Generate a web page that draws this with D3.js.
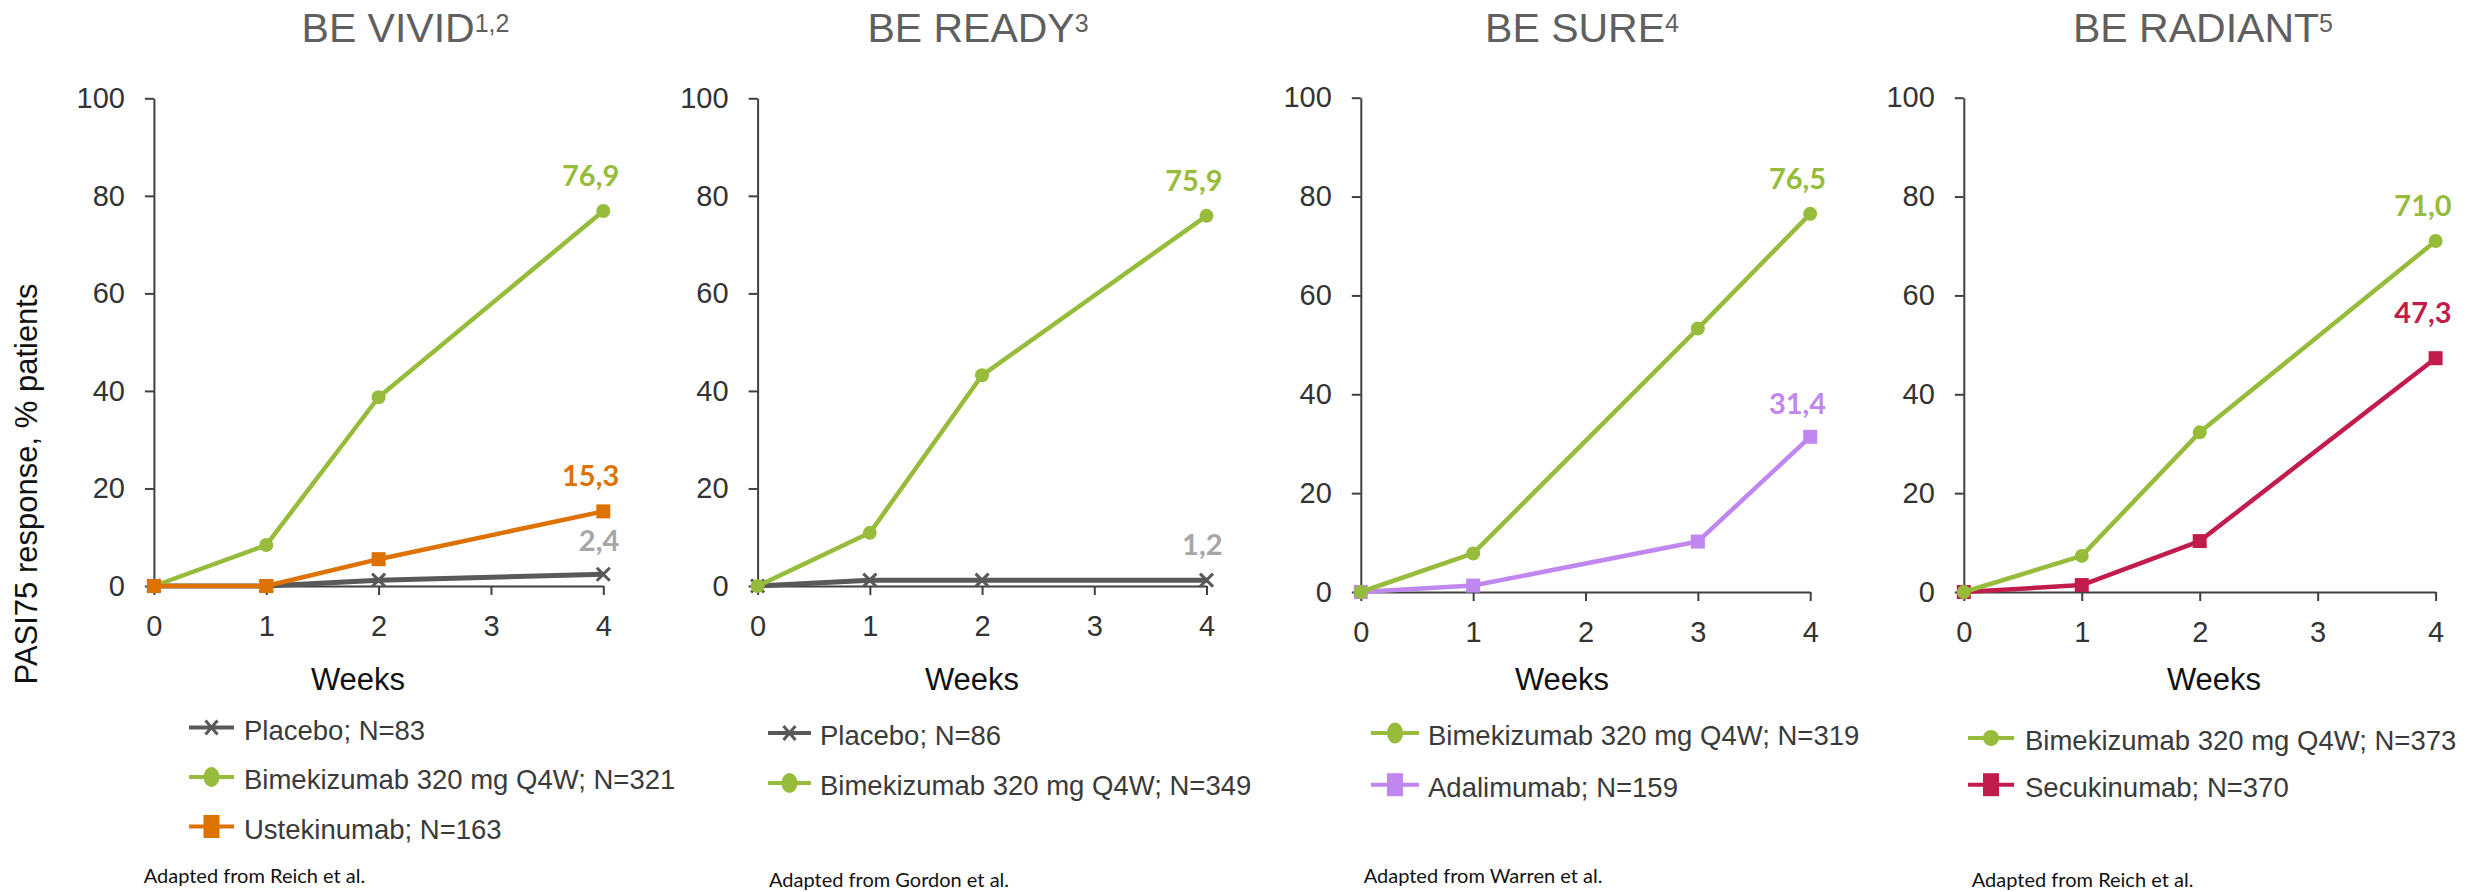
<!DOCTYPE html>
<html>
<head>
<meta charset="utf-8">
<script src="https://cdn.jsdelivr.net/npm/d3@7"></script>
<style>
  html, body { margin: 0; padding: 0; background: #ffffff; }
  svg { display: block; }
</style>
</head>
<body>
<svg id="chart" width="2486" height="892"></svg>
<script>
// ---- Axis ticks ----
const weekTicks = [0, 1, 2, 3, 4];
const responseTicks = [0, 20, 40, 60, 80, 100];

// ---- Study titles, reference marks and sources ----
const studyNames = ["BE VIVID", "BE READY", "BE SURE", "BE RADIANT"];
const studyRefs = ["1,2", "3", "4", "5"];
const studySources = [
  "Adapted from Reich et al.",
  "Adapted from Gordon et al.",
  "Adapted from Warren et al.",
  "Adapted from Reich et al."
];

// ---- BE VIVID: PASI75 response (%) by week ----
const vividWeeks = [0, 1, 2, 4];
const vividPlacebo = [0, 0, 1.2, 2.4];
const vividBimekizumab = [0, 8.4, 38.7, 76.9];
const vividUstekinumab = [0, 0, 5.5, 15.3];
const vividLegend = ["Placebo; N=83", "Bimekizumab 320 mg Q4W; N=321", "Ustekinumab; N=163"];

// ---- BE READY ----
const readyWeeks = [0, 1, 2, 4];
const readyPlacebo = [0, 1.2, 1.2, 1.2];
const readyBimekizumab = [0, 10.9, 43.2, 75.9];
const readyLegend = ["Placebo; N=86", "Bimekizumab 320 mg Q4W; N=349"];

// ---- BE SURE ----
const sureWeeks = [0, 1, 3, 4];
const sureBimekizumab = [0, 7.8, 53.3, 76.5];
const sureAdalimumab = [0, 1.3, 10.2, 31.4];
const sureLegend = ["Bimekizumab 320 mg Q4W; N=319", "Adalimumab; N=159"];

// ---- BE RADIANT ----
const radiantWeeks = [0, 1, 2, 4];
const radiantBimekizumab = [0, 7.3, 32.3, 71.0];
const radiantSecukinumab = [0, 1.4, 10.3, 47.3];
const radiantLegend = ["Bimekizumab 320 mg Q4W; N=373", "Secukinumab; N=370"];

const yAxisTitle = "PASI75 response, % patients";
const xAxisTitle = "Weeks";

// ---- Styling ----
const COL = {
  placebo: "#595959", placeboLabel: "#a6a6a6",
  bimek: "#97bc3b", ustek: "#de7200", adali: "#bf87ef", secuk: "#c21c4c",
  axis: "#404040", tick: "#333333", title: "#5f5f5f", legendText: "#3a3a3a"
};
const SANS = "'Liberation Sans', Arial, sans-serif";
const LABEL_FONT = "Lato, 'Open Sans', sans-serif";

// series: draw order listed first-to-last; legend gives row order
const panels = [
  {
    series: [
      { weeks: vividWeeks, values: vividPlacebo, mark: "x", color: COL.placebo, labelColor: COL.placeboLabel, legend: 0, labelDy: 23 },
      { weeks: vividWeeks, values: vividBimekizumab, mark: "circle", color: COL.bimek, labelColor: COL.bimek, legend: 1 },
      { weeks: vividWeeks, values: vividUstekinumab, mark: "square", color: COL.ustek, labelColor: COL.ustek, legend: 2 }
    ],
    legendText: vividLegend,
    layout: { x0: 153.9, x1: 603.3, yBase: 586, yTop: 98.3, titleX: 405.5, weeksX: 358,
              lg: { x1: 189, x2: 234, tx: 244, y: 739.5, gap: 49.5, ry: 10 }, foot: [143.7, 883] }
  },
  {
    series: [
      { weeks: readyWeeks, values: readyPlacebo, mark: "x", color: COL.placebo, labelColor: COL.placeboLabel, legend: 0 },
      { weeks: readyWeeks, values: readyBimekizumab, mark: "circle", color: COL.bimek, labelColor: COL.bimek, legend: 1 }
    ],
    legendText: readyLegend,
    layout: { x0: 757.6, x1: 1206.5, yBase: 586, yTop: 98.3, titleX: 978, weeksX: 972,
              lg: { x1: 768, x2: 811, tx: 820, y: 745, gap: 50, ry: 10 }, foot: [769, 887] }
  },
  {
    series: [
      { weeks: sureWeeks, values: sureAdalimumab, mark: "square", color: COL.adali, labelColor: COL.adali, legend: 1, labelDy: 23 },
      { weeks: sureWeeks, values: sureBimekizumab, mark: "circle", color: COL.bimek, labelColor: COL.bimek, legend: 0 }
    ],
    legendText: sureLegend,
    layout: { x0: 1360.8, x1: 1810.2, yBase: 592, yTop: 97.7, titleX: 1582, weeksX: 1562,
              lg: { x1: 1371, x2: 1419, tx: 1428, y: 745, gap: 51.7, ry: 10.5 }, foot: [1363.7, 883] }
  },
  {
    series: [
      { weeks: radiantWeeks, values: radiantSecukinumab, mark: "square", color: COL.secuk, labelColor: COL.secuk, legend: 1, labelDy: 35 },
      { weeks: radiantWeeks, values: radiantBimekizumab, mark: "circle", color: COL.bimek, labelColor: COL.bimek, legend: 0 }
    ],
    legendText: radiantLegend,
    layout: { x0: 1963.8, x1: 2435.6, yBase: 592, yTop: 97.7, titleX: 2203, weeksX: 2214,
              lg: { x1: 1968, x2: 2014, tx: 2025, y: 750, gap: 46.7, ry: 8 }, foot: [1971.8, 886.7] }
  }
];

const svg = d3.select("#chart");
const fmt = v => d3.format(".1f")(v).replace(".", ",");

// draws a marker of the given type into a selection positioned at its centre
function drawMarker(sel, mark, color, rx, ry) {
  if (mark === "circle") {
    sel.append("ellipse").attr("rx", rx).attr("ry", ry).attr("fill", color);
  } else if (mark === "square") {
    sel.append("rect").attr("x", -rx).attr("y", -ry).attr("width", 2 * rx).attr("height", 2 * ry).attr("fill", color);
  } else {
    sel.append("path").attr("d", `M${-rx},${-ry}L${rx},${ry}M${-rx},${ry}L${rx},${-ry}`)
      .attr("stroke", color).attr("stroke-width", 3).attr("fill", "none");
  }
}

// shared y-axis title
svg.append("text")
  .attr("transform", "translate(37,484) rotate(-90)")
  .attr("text-anchor", "middle")
  .attr("font-family", SANS).attr("font-size", 31).attr("fill", "#111")
  .text(yAxisTitle);

panels.forEach((p, i) => {
  const L = p.layout;
  const x = d3.scaleLinear().domain([0, 4]).range([L.x0, L.x1]);
  const y = d3.scaleLinear().domain([0, 100]).range([L.yBase, L.yTop]);
  const g = svg.append("g");

  // title with superscript reference
  const t = g.append("text")
    .attr("x", L.titleX).attr("y", 42.3)
    .attr("text-anchor", "middle")
    .attr("font-family", SANS).attr("font-size", 41).attr("fill", COL.title);
  t.append("tspan").text(studyNames[i]);
  t.append("tspan").attr("font-size", 25).attr("dy", -10.8).text(studyRefs[i]);

  // axes
  const yAxis = g.append("g").attr("transform", `translate(${L.x0},0)`)
    .call(d3.axisLeft(y).tickValues(responseTicks).tickFormat(d3.format("d"))
      .tickSize(9).tickSizeOuter(0).tickPadding(20));
  const xAxis = g.append("g").attr("transform", `translate(0,${L.yBase})`)
    .call(d3.axisBottom(x).tickValues(weekTicks).tickFormat(d3.format("d"))
      .tickSize(9).tickSizeOuter(0).tickPadding(20));
  [yAxis, xAxis].forEach(a => {
    a.select(".domain").attr("stroke", COL.axis).attr("stroke-width", 2);
    a.selectAll(".tick line").attr("stroke", COL.axis).attr("stroke-width", 2);
    a.selectAll(".tick text").attr("font-family", SANS).attr("fill", COL.tick).attr("font-size", 29);
  });

  g.append("text")
    .attr("x", L.weeksX).attr("y", 690)
    .attr("text-anchor", "middle")
    .attr("font-family", SANS).attr("font-size", 31).attr("fill", "#111")
    .text(xAxisTitle);

  // series lines, markers and end-value labels
  const line = d3.line().x(d => x(d.w)).y(d => y(d.v));
  p.series.forEach(s => {
    const pts = s.weeks.map((w, k) => ({ w, v: s.values[k] }));
    g.append("path").datum(pts)
      .attr("d", line)
      .attr("fill", "none").attr("stroke", s.color)
      .attr("stroke-width", s.mark === "x" ? 5 : 4.5)
      .attr("stroke-linejoin", "round");
    pts.forEach(d => {
      const m = g.append("g").attr("transform", `translate(${x(d.w)},${y(d.v)})`);
      if (s.mark === "circle") drawMarker(m, "circle", s.color, 7, 7);
      else if (s.mark === "square") drawMarker(m, "square", s.color, 7, 7);
      else drawMarker(m, "x", s.color, 6.5, 6.5);
    });
    const last = pts[pts.length - 1];
    g.append("text")
      .attr("x", x(last.w) + 16).attr("y", y(last.v) - (s.labelDy || 25))
      .attr("text-anchor", "end")
      .attr("font-family", LABEL_FONT).attr("font-weight", 700).attr("font-size", 29)
      .attr("fill", s.labelColor)
      .text(fmt(last.v));
  });

  // legend
  const lg = L.lg;
  p.series.slice().sort((a, b) => a.legend - b.legend).forEach(s => {
    const by = lg.y + s.legend * lg.gap;
    const cy = by - 12;
    const row = g.append("g");
    row.append("line").attr("x1", lg.x1).attr("x2", lg.x2).attr("y1", cy).attr("y2", cy)
      .attr("stroke", s.color).attr("stroke-width", 4);
    const m = row.append("g").attr("transform", `translate(${(lg.x1 + lg.x2) / 2},${cy})`);
    if (s.mark === "circle") drawMarker(m, "circle", s.color, 8, lg.ry);
    else if (s.mark === "square") drawMarker(m, "square", s.color, 8, 11.5);
    else drawMarker(m, "x", s.color, 6, 7);
    row.append("text")
      .attr("x", lg.tx).attr("y", by)
      .attr("font-family", SANS).attr("font-size", 27.5).attr("fill", COL.legendText)
      .text(p.legendText[s.legend]);
  });

  // source note
  g.append("text")
    .attr("x", L.foot[0]).attr("y", L.foot[1])
    .attr("font-family", LABEL_FONT).attr("font-size", 20).attr("fill", "#111")
    .text(studySources[i]);
});
</script>
</body>
</html>
